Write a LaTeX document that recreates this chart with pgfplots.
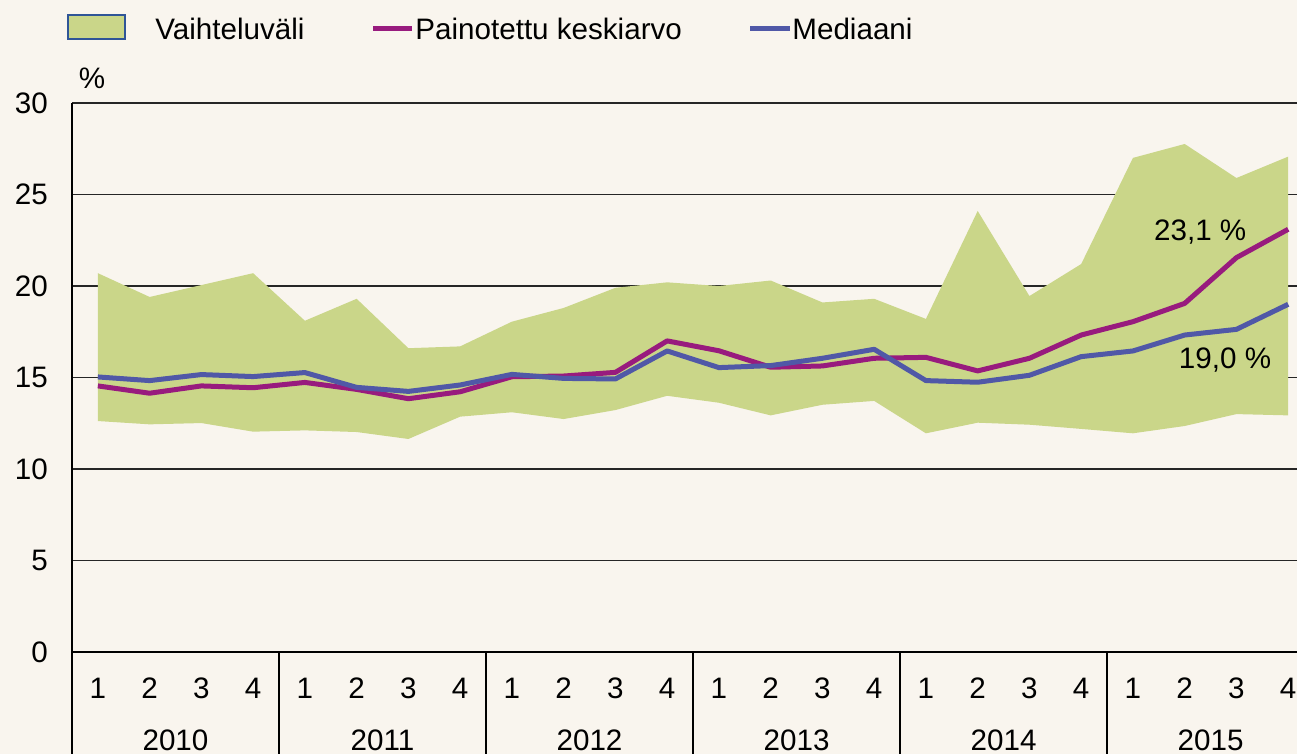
\documentclass[border=0pt]{standalone}
\usepackage{fontspec}
\setmainfont{Liberation Sans}
\usepackage{xcolor}
\usepackage{pgfplots}
\pgfplotsset{compat=1.18}
\usepgfplotslibrary{fillbetween}
\usepackage{pgfplotstable}

\definecolor{bgc}{HTML}{F9F5EE}
\definecolor{areagreen}{HTML}{CAD689}
\definecolor{mypurple}{HTML}{981B7E}
\definecolor{myblue}{HTML}{5058A7}
\definecolor{boxblue}{HTML}{2F5597}
\pagecolor{bgc}

\pgfplotstableread{
i lo hi mean med
0 12.62 20.70 14.54 15.03
1 12.44 19.40 14.14 14.83
2 12.51 20.05 14.54 15.16
3 12.04 20.70 14.44 15.05
4 12.11 18.10 14.73 15.27
5 12.02 19.30 14.35 14.46
6 11.64 16.60 13.84 14.24
7 12.86 16.70 14.22 14.59
8 13.10 18.05 15.04 15.17
9 12.73 18.80 15.08 14.95
10 13.22 19.90 15.28 14.92
11 14.00 20.20 17.00 16.45
12 13.62 20.00 16.46 15.54
13 12.93 20.30 15.56 15.65
14 13.51 19.10 15.63 16.05
15 13.72 19.30 16.05 16.54
16 11.95 18.20 16.10 14.83
17 12.53 24.10 15.36 14.74
18 12.42 19.45 16.05 15.12
19 12.19 21.20 17.32 16.14
20 11.95 27.00 18.05 16.45
21 12.35 27.76 19.05 17.32
22 13.00 25.90 21.55 17.63
23 12.93 27.07 23.10 19.00
}\data

\begin{document}
\begin{tikzpicture}[font=\fontsize{14.8}{17}\selectfont]
\begin{axis}[
  at={(36pt,51pt)}, anchor=south west,
  width=612.5pt, height=274.5pt, scale only axis,
  xmin=-0.5, xmax=23.17, ymin=0, ymax=30,
  axis lines=left, axis line style={-, line width=1pt, black},
  ytick={0,5,...,30},
  ymajorgrids, grid style={line width=0.8pt, color=black!85},
  xtick={0,...,23},
  xticklabels={1,2,3,4,1,2,3,4,1,2,3,4,1,2,3,4,1,2,3,4,1,2,3,4},
  major tick length=0,
  tick label style={font=\fontsize{14.8}{17}\selectfont},
  xticklabel style={anchor=center, yshift=-18pt},
  yticklabel style={anchor=east, xshift=-8.6pt},
  /pgf/number format/assume math mode=true,
  clip=false,
]
\addplot[draw=none, name path=hi] table[x=i, y=hi] {\data};
\addplot[draw=none, name path=lo] table[x=i, y=lo] {\data};
\addplot[fill=areagreen, draw=none] fill between[of=hi and lo];
\addplot[mypurple, line width=2.5pt, line join=round] table[x=i, y=mean] {\data};
\addplot[myblue, line width=2.5pt, line join=round] table[x=i, y=med] {\data};

\draw[line width=1pt, black] (axis cs:-0.5,0) -- ++(0pt,-60pt);
\draw[line width=1pt, black] (axis cs:3.5,0) -- ++(0pt,-60pt);
\draw[line width=1pt, black] (axis cs:7.5,0) -- ++(0pt,-60pt);
\draw[line width=1pt, black] (axis cs:11.5,0) -- ++(0pt,-60pt);
\draw[line width=1pt, black] (axis cs:15.5,0) -- ++(0pt,-60pt);
\draw[line width=1pt, black] (axis cs:19.5,0) -- ++(0pt,-60pt);
\node at (axis cs:1.5,0) [yshift=-44pt] {2010};
\node at (axis cs:5.5,0) [yshift=-44pt] {2011};
\node at (axis cs:9.5,0) [yshift=-44pt] {2012};
\node at (axis cs:13.5,0) [yshift=-44pt] {2013};
\node at (axis cs:17.5,0) [yshift=-44pt] {2014};
\node at (axis cs:21.5,0) [yshift=-44pt] {2015};
\node at (axis cs:-0.5,30) [xshift=10pt, yshift=12.5pt] {\%};
\node at (axis cs:21.3,22.95) {23,1 \%};
\node at (axis cs:21.78,15.96) {19,0 \%};
\end{axis}
% legend
\filldraw[fill=areagreen, draw=boxblue, line width=0.6pt] (34pt,357.5pt) rectangle (62.5pt,369.5pt);
\node[anchor=west, inner sep=0pt] at (77.5pt,362.5pt) {Vaihteluväli};
\draw[mypurple, line width=2.5pt] (186.5pt,362.5pt) -- (206pt,362.5pt);
\node[anchor=west, inner sep=0pt] at (207.5pt,362.5pt) {Painotettu keskiarvo};
\draw[myblue, line width=2.5pt] (375pt,362.5pt) -- (395pt,362.5pt);
\node[anchor=west, inner sep=0pt] at (396pt,362.5pt) {Mediaani};
\pgfresetboundingbox
\useasboundingbox (0,0) rectangle (648.5pt,377pt);
\end{tikzpicture}
\end{document}
